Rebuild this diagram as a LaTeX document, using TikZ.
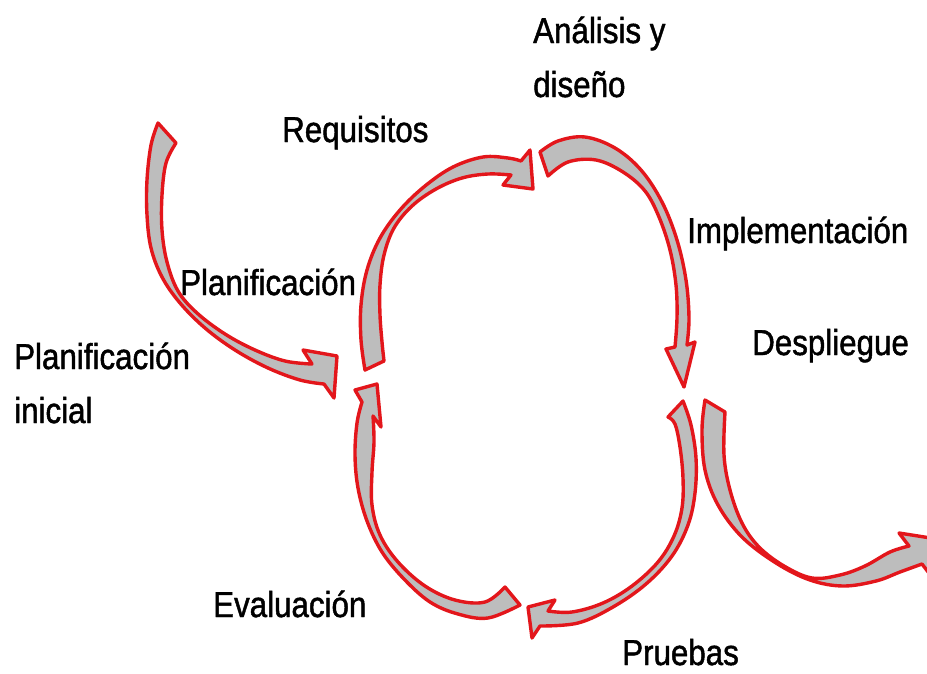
\documentclass[tikz,border=0pt]{standalone}
\usepackage{fontspec}
\setmainfont{Liberation Sans}[FakeStretch=0.87,FakeBold=1.3]
\definecolor{arrowred}{HTML}{E3161B}
\definecolor{arrowgray}{HTML}{BDBDBD}
\tikzset{
  cyclearrow/.style={draw=arrowred, fill=arrowgray, line width=3.4pt, line join=round},
  stagelabel/.style={anchor=base west, inner sep=0pt, align=left, font=\fontsize{36}{54}\selectfont}
}
\begin{document}
\begin{tikzpicture}[x=1pt,y=-1pt]
            \useasboundingbox (0,0) rectangle (927,673);
            \clip (0,0) rectangle (927,673);

            \draw[cyclearrow] plot[smooth,tension=.6] coordinates {(158,123) (151,145) (147,180) (147,215) (151,248) (162,277) (180,303) (205,328) (235,350) (268,368) (300,380) (324,384)}
                -- (334,398) -- (337,356) -- (303,350)
                -- plot[smooth,tension=.6] coordinates {(312,364) (285,361) (255,350) (225,334) (197,313) (178,291) (167,262) (162,230) (162,195) (166,163) (176,143)} -- cycle;
            \draw[cyclearrow] plot[smooth,tension=.6] coordinates {(365,370) (361,340) (361,305) (367,270) (380,238) (400,210) (425,186) (453,167) (483,157) (508,158) (521,161)}
                -- (530,150) -- (533,189) -- (503,185)
                -- plot[smooth,tension=.6] coordinates {(511,175) (488,174) (462,178) (436,189) (412,206) (394,228) (384,255) (380,285) (380,315) (382,342) (384,361)} -- cycle;
            \draw[cyclearrow] plot[smooth,tension=.6] coordinates {(540,152) (558,141) (585,137) (615,148) (641,170) (662,202) (677,240) (686,280) (689,318) (687,345)}
                -- (695,342) -- (684,387) -- (666,349)
                -- plot[smooth,tension=.6] coordinates {(675,347) (677,318) (676,285) (670,250) (659,217) (645,191) (623,172) (596,160) (568,162) (548,176)} -- cycle;
            \draw[cyclearrow] plot[smooth,tension=.6] coordinates {(683,401) (691,425) (696,458) (695,493) (688,525) (672,556) (646,584) (613,607) (578,623) (540,626)}
                -- (532,638) -- (528,607) -- (555,600)
                -- plot[smooth,tension=.6] coordinates {(548,611) (572,612) (603,603) (632,586) (658,562) (674,536) (682,508) (683,478) (680,447) (675,424) (668,417)} -- cycle;
            \draw[cyclearrow] plot[smooth,tension=.6] coordinates {(520,605) (488,618) (458,614) (430,602) (404,579) (382,552) (367,521) (358,488) (355,455) (357,423) (362,402)}
                -- (355,390) -- (377,384) -- (381,427)
                -- plot[smooth,tension=.6] coordinates {(373,416) (374,442) (372,472) (372,505) (380,535) (398,562) (425,586) (455,600) (485,602) (505,587)} -- cycle;
            \draw[cyclearrow] plot[smooth,tension=.6] coordinates {(705,400) (702,430) (705,470) (718,505) (742,537) (776,563) (810,580) (843,586) (876,581) (900,572) (922,564)}
                -- (932,577) -- (937,539) -- (899,533)
                -- plot[smooth,tension=.6] coordinates {(909,546) (890,552) (865,566) (840,575) (812,578) (784,566) (759,547) (742,523) (730,490) (724,455) (725,412)} -- cycle;

            \node[stagelabel] (inicial) at (14,423) {Planificación\\inicial};
            \node[stagelabel] (planif) at (180,295) {Planificación};
            \node[stagelabel] (requis) at (282,142) {Requisitos};
            \node[stagelabel] (analisis) at (533,97) {Análisis y\\diseño};
            \node[stagelabel] (implem) at (687,243) {Implementación};
            \node[stagelabel] (desplie) at (752,355) {Despliegue};
            \node[stagelabel] (evalua) at (213,617) {Evaluación};
            \node[stagelabel] (pruebas) at (622,665) {Pruebas};
\end{tikzpicture}
\end{document}
